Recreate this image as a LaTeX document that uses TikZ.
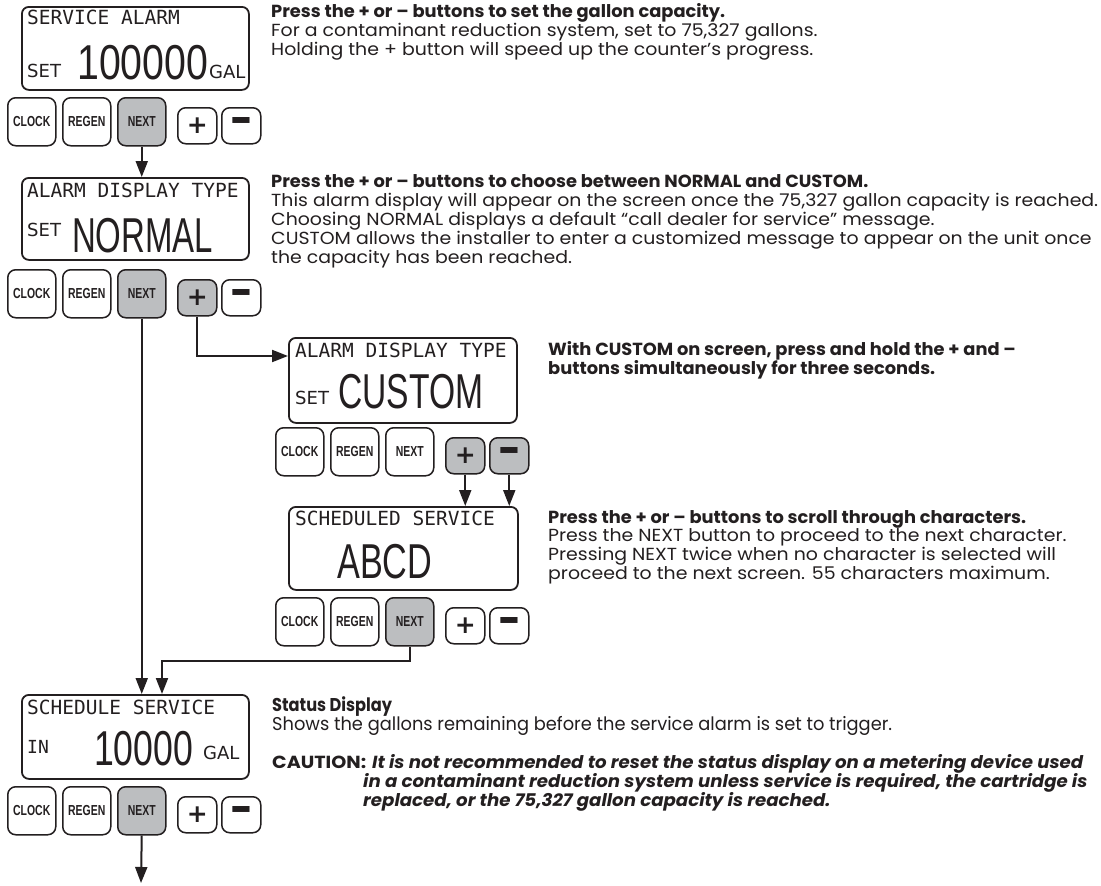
\documentclass[tikz,border=0pt]{standalone}
\usepackage{fontspec}
\usepackage{graphicx}
\setmainfont{Poppins}
\newfontfamily\lcdmono{DejaVu Sans Mono}
\newfontfamily\lcdsans{DejaVu Sans}
\newfontfamily\lcdbig{Liberation Sans}
\newfontfamily\btnfam{Liberation Sans}
\usetikzlibrary{arrows.meta,calc}
\definecolor{ink}{RGB}{35,31,32}
\definecolor{btngray}{RGB}{188,190,192}
\newlength\refw
\newcommand{\regfont}{\fontsize{17.5}{19}\selectfont}
\newcommand{\fitw}[2]{\resizebox{#1}{\height}{#2}}
\newcommand{\rl}[1]{\scalebox{\sR}[1]{\regfont #1}}
\newcommand{\bl}[1]{\scalebox{\sB}[1]{\regfont\bfseries #1}}
\newcommand{\il}[1]{\scalebox{\sBI}[1]{\regfont\bfseries\itshape #1}}
\newcommand{\bigw}[2]{\resizebox{#1}{\height}{\lcdbig\fontsize{49}{49}\selectfont #2}}
\tikzset{
  disp/.style={draw=ink, line width=1.8pt, rounded corners=7pt, fill=white, anchor=north west, inner sep=0pt},
  btnkey/.style={draw=ink, line width=1.5pt, rounded corners=8pt, anchor=north west, inner sep=0pt,
     minimum width=48pt, minimum height=48pt, text=ink,
     font=\btnfam\bfseries\fontsize{14.5}{14.5}\selectfont},
  pmkey/.style={draw=ink, line width=1.5pt, rounded corners=8pt, anchor=north west, inner sep=0pt,
     minimum width=39pt, minimum height=36pt, text=ink,
     font=\lcdsans\bfseries\fontsize{25}{25}\selectfont},
  lcdtitle/.style={anchor=west, inner sep=0pt, text=ink, font=\lcdmono\fontsize{19.5}{20}\selectfont},
  lcdsmall/.style={anchor=west, inner sep=0pt, text=ink, font=\lcdsans\fontsize{18}{20}\selectfont},
  lcdsmallmono/.style={anchor=west, inner sep=0pt, text=ink, font=\lcdmono\fontsize{18}{20}\selectfont},
  lcdbignum/.style={anchor=base west, inner sep=0pt, text=ink},
  txt/.style={anchor=base west, inner sep=0pt, text=ink},
  arr/.style={draw=ink, line width=2pt, -{Triangle[width=12pt,length=16pt]}},
}
% #1 suffix, #2 x, #3 top y, #4 NEXT fill, #5 plus fill, #6 minus fill
\newcommand{\btnrow}[6]{%
  \node[btnkey, fill=white] (clk#1) at (#2,#3) {\scalebox{0.72}[1]{CLOCK}};
  \node[btnkey, fill=white] (rgn#1) at (#2+55,#3) {\scalebox{0.72}[1]{REGEN}};
  \node[btnkey, fill=#4] (nxt#1) at (#2+110,#3) {\scalebox{0.72}[1]{NEXT}};
  \node[pmkey, fill=#5] (pls#1) at (#2+170,#3+10) {+};
  \node[pmkey, fill=#6] (mns#1) at (#2+214,#3+10) {\scalebox{1.75}[1.9]{–}};
}
\begin{document}
\settowidth\refw{\regfont This alarm display will appear on the screen once the 75,327 gallon capacity is reached.}%
\pgfmathsetmacro\sR{827/\refw}%
\settowidth\refw{\regfont\bfseries Press the + or – buttons to set the gallon capacity.}%
\pgfmathsetmacro\sB{454/\refw}%
\settowidth\refw{\regfont\bfseries\itshape It is not recommended to reset the status display on a metering device used}%
\pgfmathsetmacro\sBI{711/\refw}%
\begin{tikzpicture}[x=1pt, y=-1pt]
\useasboundingbox[fill=white] (0,0) rectangle (1101,886);

% ---------- displays ----------
\node[disp, minimum width=227pt, minimum height=83pt] (d1) at (21,6) {};
\node[lcdtitle] (d1t) at (27,17) {SERVICE ALARM};
\node[lcdsmall] (d1s) at (27,71) {SET};
\node[lcdbignum] (d1n) at (77,79) {\bigw{131pt}{100000}};
\node[lcdsmall] (d1g) at (209,72) {GAL};

\node[disp, minimum width=227pt, minimum height=82pt] (d2) at (21,177) {};
\node[lcdtitle] (d2t) at (27,190) {ALARM DISPLAY TYPE};
\node[lcdsmall] (d2s) at (27,230) {SET};
\node[lcdbignum] (d2n) at (72,252) {\bigw{141pt}{NORMAL}};

\node[disp, minimum width=228pt, minimum height=85pt] (d3) at (288,337) {};
\node[lcdtitle] (d3t) at (295,350) {ALARM DISPLAY TYPE};
\node[lcdsmall] (d3s) at (295,398) {SET};
\node[lcdbignum] (d3n) at (338,408) {\bigw{145pt}{CUSTOM}};

\node[disp, minimum width=229pt, minimum height=83pt] (d4) at (288,506) {};
\node[lcdtitle] (d4t) at (295,518) {SCHEDULED SERVICE};
\node[lcdbignum] (d4n) at (337,578) {\bigw{95pt}{ABCD}};

\node[disp, minimum width=227pt, minimum height=84pt] (d5) at (21,694) {};
\node[lcdtitle] (d5t) at (27,707) {SCHEDULE SERVICE};
\node[lcdsmallmono] (d5s) at (27,747) {IN};
\node[lcdbignum] (d5n) at (94,765) {\bigw{99pt}{10000}};
\node[lcdsmall] (d5g) at (203,753) {GAL};

% ---------- button rows ----------
\btnrow{1}{7}{97}{btngray}{white}{white}
\btnrow{2}{7}{269}{btngray}{btngray}{white}
\btnrow{3}{275}{427}{white}{btngray}{btngray}
\btnrow{4}{275}{597}{btngray}{white}{white}
\btnrow{5}{7}{786}{btngray}{white}{white}

% ---------- connectors ----------
\coordinate (d3in) at (288,356);
\coordinate (jn4) at (162,661);
\coordinate (endarr) at (141,883);
\draw[arr] (nxt1.south) -- (nxt1.south |- d2.north);
\draw[arr] (nxt2.south) -- (nxt2.south |- d5.north);
\draw[arr] (pls2.south) |- (d3in);
\draw[arr] (pls3.south) -- (pls3.south |- d4.north);
\draw[arr] (mns3.south) -- (mns3.south |- d4.north);
\draw[arr] (nxt4.south) |- (jn4) -- (jn4 |- d5.north);
\draw[arr] (nxt5.south) -- (endarr);

% ---------- texts ----------
\node[txt] (b1a) at (271,17) {\bl{Press the + or – buttons to set the gallon capacity.}};
\node[txt] (b1b) at (271,36) {\rl{For a contaminant reduction system, set to 75,327 gallons.}};
\node[txt] (b1c) at (271,55) {\rl{Holding the + button will speed up the counter’s progress.}};

\node[txt] (b2a) at (271,187) {\bl{Press the + or – buttons to choose between NORMAL and CUSTOM.}};
\node[txt] (b2b) at (271,206) {\rl{This alarm display will appear on the screen once the 75,327 gallon capacity is reached.}};
\node[txt] (b2c) at (271,225) {\rl{Choosing NORMAL displays a default “call dealer for service” message.}};
\node[txt] (b2d) at (271,244) {\rl{CUSTOM allows the installer to enter a customized message to appear on the unit once}};
\node[txt] (b2e) at (271,263) {\rl{the capacity has been reached.}};

\node[txt] (b3a) at (548,355) {\bl{With CUSTOM on screen, press and hold the + and –}};
\node[txt] (b3b) at (548,374) {\bl{buttons simultaneously for three seconds.}};

\node[txt] (b4a) at (548,523) {\bl{Press the + or – buttons to scroll through characters.}};
\node[txt] (b4b) at (548,541) {\rl{Press the NEXT button to proceed to the next character.}};
\node[txt] (b4c) at (548,560) {\rl{Pressing NEXT twice when no character is selected will}};
\node[txt] (b4d) at (548,579) {\rl{proceed to the next screen. 55 characters maximum.}};

\node[txt] (b5a) at (272,711) {\fitw{120pt}{\fontsize{18.5}{19}\selectfont\bfseries Status Display}};
\node[txt] (b5b) at (272,730) {\fitw{620pt}{\fontsize{18.5}{19}\selectfont Shows the gallons remaining before the service alarm is set to trigger.}};
\node[txt] (b5c) at (272,768) {\fitw{94pt}{\regfont\bfseries CAUTION:}};
\node[txt] (b5d) at (372,768) {\il{It is not recommended to reset the status display on a metering device used}};
\node[txt] (b5e) at (363,787) {\il{in a contaminant reduction system unless service is required, the cartridge is}};
\node[txt] (b5f) at (363,806) {\il{replaced, or the 75,327 gallon capacity is reached.}};
\end{tikzpicture}
\end{document}
